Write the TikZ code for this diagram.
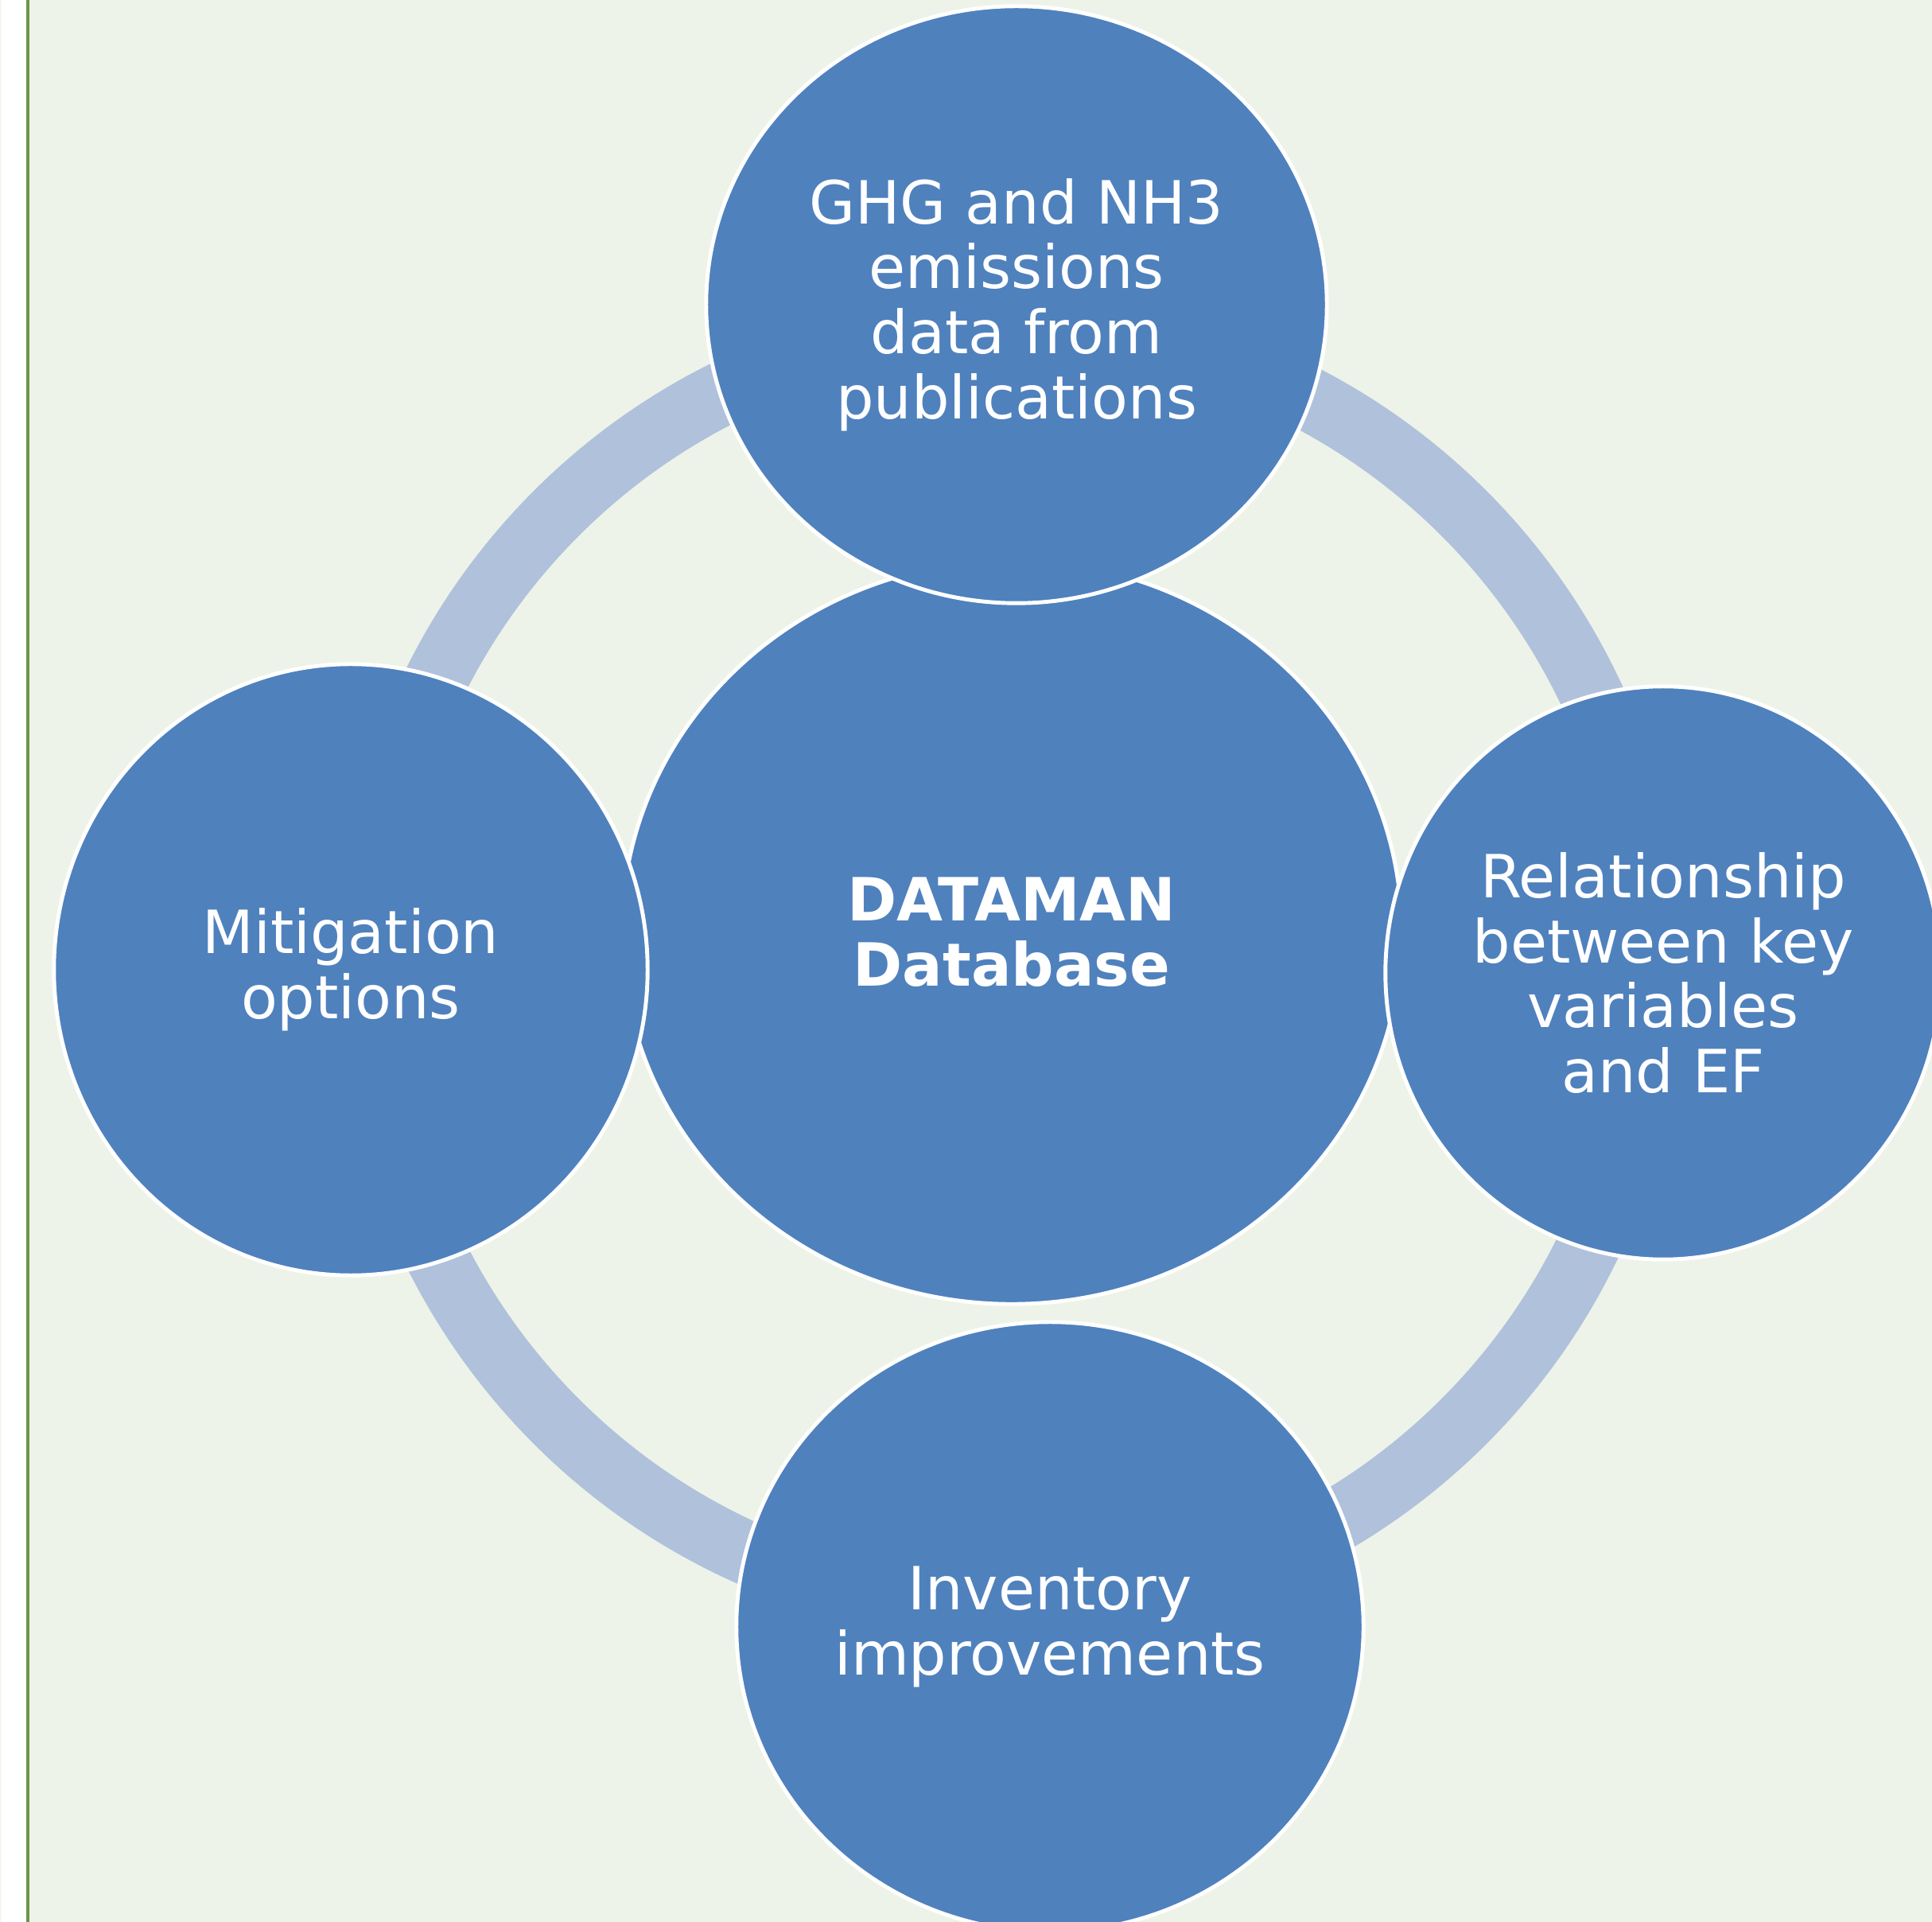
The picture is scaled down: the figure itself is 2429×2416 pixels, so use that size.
\documentclass[tikz,border=0pt]{standalone}
\usepackage{fontspec}
\setmainfont{DejaVu Sans}
\usetikzlibrary{shapes.geometric}

\definecolor{pageGreen}{RGB}{237,243,232}
\definecolor{ruleGreen}{RGB}{106,150,70}
\definecolor{cycleBlue}{RGB}{79,129,189}
\definecolor{ringBlue}{RGB}{176,193,220}

\begin{document}
\begin{tikzpicture}[
  x=0.01cm, y=-0.01cm,
  bubble/.style = {ellipse, draw=white, line width=1.4pt, fill=cycleBlue, text=white,
                   align=center, inner sep=0pt, font=\fontsize{21.3}{23.2}\selectfont},
  ring/.style = {draw=ringBlue, line width=0.8cm}
  ]

  \useasboundingbox (0,0) rectangle (2429,2416);

    % Page margin and background
  \fill[white] (0,0) rectangle (36,2416);
  \fill[pageGreen!70] (0,0) rectangle (2,2416);
  \fill[pageGreen] (36,0) rectangle (2429,2416);
  \fill[ruleGreen] (33,0) rectangle (37,2416);

    % Cycle ring behind the bubbles
  \draw[ring] (1270,1216) circle[radius=807];

    % Database in the middle
  \node[bubble, minimum width=9.8cm, minimum height=9.34cm, font=\fontsize{21.3}{23.2}\selectfont\bfseries]
    (dataman) at (1272,1172) {DATAMAN\\Database};

    % Satellites
  \node[bubble, minimum width=7.8cm, minimum height=7.5cm] (ghg) at (1278,383)
    {GHG and NH3\\emissions\\data from\\publications};
  \node[bubble, minimum width=7.46cm, minimum height=7.68cm] (mitig) at (441,1219)
    {Mitigation\\options};
  \node[bubble, minimum width=6.98cm, minimum height=7.2cm] (relation) at (2091,1223)
    {Relationship\\between key\\variables\\and EF};
  \node[bubble, minimum width=7.88cm, minimum height=7.66cm] (inventory) at (1320,2045)
    {Inventory\\improvements};

\end{tikzpicture}
\end{document}
